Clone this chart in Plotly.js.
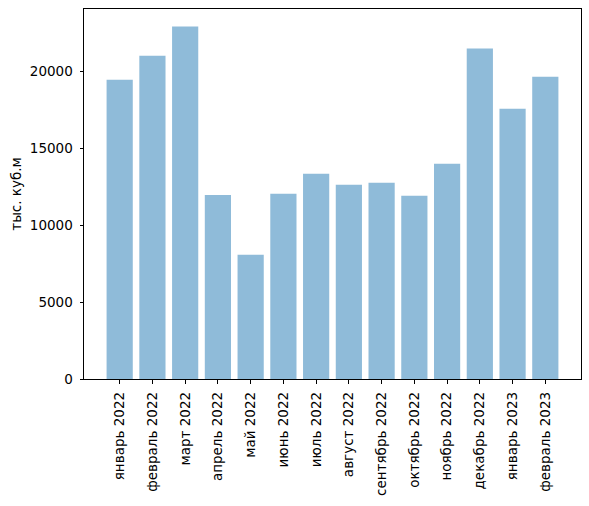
<!DOCTYPE html>
<html>
<head>
<meta charset="utf-8">
<script src="https://cdn.plot.ly/plotly-3.0.1.min.js"></script>
<style>html,body{margin:0;padding:0;background:#fff;}#chart{width:589px;height:506px;}</style>
</head>
<body>
<div id="chart"></div>
<script>
const months = ["январь 2022","февраль 2022","март 2022","апрель 2022","май 2022","июнь 2022","июль 2022","август 2022","сентябрь 2022","октябрь 2022","ноябрь 2022","декабрь 2022","январь 2023","февраль 2023"];
const volumes = [19450, 21000, 22900, 11950, 8070, 12040, 13340, 12620, 12750, 11910, 13990, 21470, 17570, 19650];
const yTicks = [0, 5000, 10000, 15000, 20000];
const yLabel = "тыс. куб.м";

const ymax = Math.max(...volumes) * 1.05;
const trace = {
  type: "bar",
  x: months,
  y: volumes,
  marker: {color: "rgba(31,119,180,0.5)", line: {width: 0}},
  width: 0.8,
  hoverinfo: "x+y"
};
const layout = {
  width: 589, height: 506,
  margin: {l: 84, r: 8, t: 9, b: 127, pad: 0},
  paper_bgcolor: "#fff", plot_bgcolor: "#fff",
  font: {family: "DejaVu Sans, sans-serif", size: 13.5, color: "#000"},
  showlegend: false,
  xaxis: {
    type: "category",
    range: [-1.09, months.length - 1 + 1.09],
    tickangle: -90,
    ticks: "outside", ticklen: 3.5, tickcolor: "#000", tickwidth: 1,
    ticklabelstandoff: 3,
    showline: true, linecolor: "#000", linewidth: 1, mirror: true,
    showgrid: false, zeroline: false,
    tickfont: {size: 13.5}
  },
  yaxis: {
    range: [0, ymax],
    tickvals: yTicks,
    ticktext: yTicks.map(String),
    ticks: "outside", ticklen: 3.5, tickcolor: "#000", tickwidth: 1,
    ticklabelstandoff: 4,
    showline: true, linecolor: "#000", linewidth: 1, mirror: true,
    showgrid: false, zeroline: false,
    title: {text: yLabel, font: {size: 13.5}, standoff: 5},
    tickfont: {size: 13.5}
  }
};
Plotly.newPlot("chart", [trace], layout, {staticPlot: true, displayModeBar: false});
</script>
</body>
</html>
